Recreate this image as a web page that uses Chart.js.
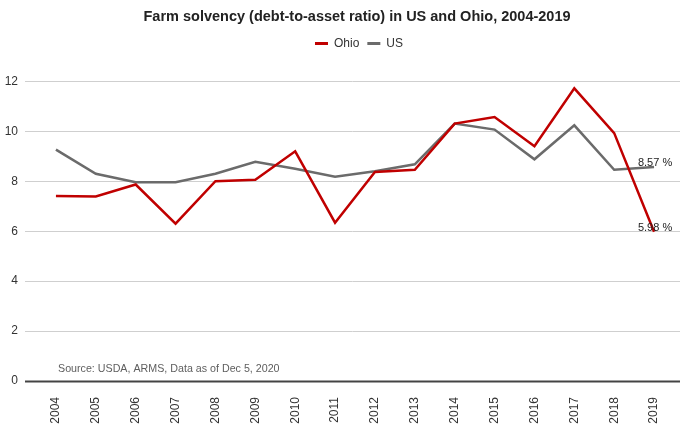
<!DOCTYPE html>
<html lang="en">
<head>
    <meta charset="UTF-8">
    <title>Farm solvency</title>
    <script src="https://cdn.jsdelivr.net/npm/chart.js"></script>
    <style>
        html, body {
            margin: 0;
            padding: 0;
            background: white;
        }

        .chart-box {
            width: 680px;
            height: 431px;
        }
    </style>
</head>
<body>
    <div class="chart-box">
        <canvas id="solvencyChart"></canvas>
    </div>

    <script>
        const years = ['2004', '2005', '2006', '2007', '2008', '2009', '2010', '2011',
                       '2012', '2013', '2014', '2015', '2016', '2017', '2018', '2019'];
        const ohioRatio = [7.41, 7.39, 7.87, 6.30, 8.00, 8.06, 9.20, 6.34,
                           8.37, 8.46, 10.31, 10.57, 9.40, 11.72, 9.93, 5.98];
        const usRatio = [9.27, 8.30, 7.96, 7.96, 8.30, 8.78, 8.50, 8.18,
                         8.40, 8.68, 10.31, 10.07, 8.88, 10.24, 8.46, 8.57];
        const yTicks = [0, 2, 4, 6, 8, 10, 12];
        const sourceNote = 'Source: USDA, ARMS, Data as of Dec 5, 2020';

        const fontFamily = '"Liberation Sans", Arial, sans-serif';

        // leave some room between the legend and the plot
        const legendGap = {
            id: 'legendGap',
            beforeInit(chart) {
                const fit = chart.legend.fit;
                chart.legend.fit = function () {
                    fit.bind(chart.legend)();
                    this.height += 22;
                };
            },
            // title and legend are centred over the plot, not the canvas
            afterLayout(chart) {
                const shift = 18;
                chart.titleBlock.left += shift;
                chart.titleBlock.right += shift;
                chart.legend.left += shift + 2;
                chart.legend.right += shift + 2;
            }
        };

        // horizontal grid lines run the full width, zero line is heavier
        const gridPlugin = {
            id: 'fullGrid',
            beforeDatasetsDraw(chart) {
                const ctx = chart.ctx;
                const y = chart.scales.y;
                ctx.save();
                yTicks.forEach(function (t) {
                    const py = Math.round(y.getPixelForValue(t)) + 0.5;
                    ctx.beginPath();
                    if (t === 0) {
                        ctx.strokeStyle = '#444';
                        ctx.lineWidth = 2;
                    } else {
                        ctx.strokeStyle = '#cfcfcf';
                        ctx.lineWidth = 1;
                    }
                    ctx.moveTo(25, py);
                    ctx.lineTo(chart.width, py);
                    ctx.stroke();
                });
                ctx.restore();
            }
        };

        // last-point value labels and source note
        const labelPlugin = {
            id: 'endLabels',
            afterDatasetsDraw(chart) {
                const ctx = chart.ctx;
                ctx.save();
                ctx.font = '11px ' + fontFamily;
                ctx.fillStyle = '#222';
                ctx.textAlign = 'center';
                ctx.textBaseline = 'middle';
                chart.data.datasets.forEach(function (ds, i) {
                    const meta = chart.getDatasetMeta(i);
                    const pt = meta.data[meta.data.length - 1];
                    const v = ds.data[ds.data.length - 1];
                    ctx.fillText(v.toFixed(2) + ' %', pt.x + 1, pt.y - 4);
                });

                ctx.textAlign = 'left';
                ctx.fillStyle = '#5e5e5e';
                ctx.font = '10.7px ' + fontFamily;
                ctx.fillText(sourceNote, 58, chart.scales.y.getPixelForValue(0) - 12);
                ctx.restore();
            }
        };

        new Chart(document.getElementById('solvencyChart'), {
            type: 'line',
            data: {
                labels: years,
                datasets: [
                    {
                        label: 'Ohio',
                        data: ohioRatio,
                        borderColor: '#c00000',
                        backgroundColor: '#c00000',
                        borderWidth: 2.5,
                        pointRadius: 0,
                        tension: 0
                    },
                    {
                        label: 'US',
                        data: usRatio,
                        borderColor: '#6b6b6b',
                        backgroundColor: '#6b6b6b',
                        borderWidth: 2.5,
                        pointRadius: 0,
                        tension: 0
                    }
                ]
            },
            options: {
                responsive: true,
                maintainAspectRatio: false,
                animation: false,
                layout: {
                    padding: { left: 4, right: 6, top: 0, bottom: 0 }
                },
                plugins: {
                    title: {
                        display: true,
                        text: 'Farm solvency (debt-to-asset ratio) in US and Ohio, 2004-2019',
                        color: '#222',
                        font: { family: fontFamily, size: 14.5, weight: 'bold' },
                        padding: { top: 8, bottom: 4 }
                    },
                    legend: {
                        position: 'top',
                        labels: {
                            color: '#333',
                            boxWidth: 13,
                            boxHeight: 3,
                            padding: 8,
                            font: { family: fontFamily, size: 12 },
                            // flat swatches without the dataset border
                            generateLabels(chart) {
                                return Chart.defaults.plugins.legend.labels.generateLabels(chart)
                                    .map(item => Object.assign(item, { lineWidth: 0 }));
                            }
                        }
                    },
                    tooltip: { enabled: false }
                },
                scales: {
                    x: {
                        offset: true,
                        grid: { display: false, drawTicks: false },
                        border: { display: false },
                        afterFit(axis) {
                            axis.height = 50;
                            axis.paddingLeft = 0;
                            axis.paddingRight = 0;
                        },
                        ticks: {
                            color: '#333',
                            minRotation: 90,
                            maxRotation: 90,
                            padding: 16,
                            font: { family: fontFamily, size: 12 }
                        }
                    },
                    y: {
                        min: 0,
                        max: 12,
                        afterBuildTicks(axis) {
                            axis.ticks = yTicks.map(v => ({ value: v }));
                        },
                        afterFit(axis) {
                            axis.width = 32;
                        },
                        grid: { display: false, drawTicks: false },
                        border: { display: false },
                        ticks: {
                            color: '#333',
                            padding: 18,
                            font: { family: fontFamily, size: 12 }
                        }
                    }
                }
            },
            plugins: [legendGap, gridPlugin, labelPlugin]
        });
    </script>
</body>
</html>
